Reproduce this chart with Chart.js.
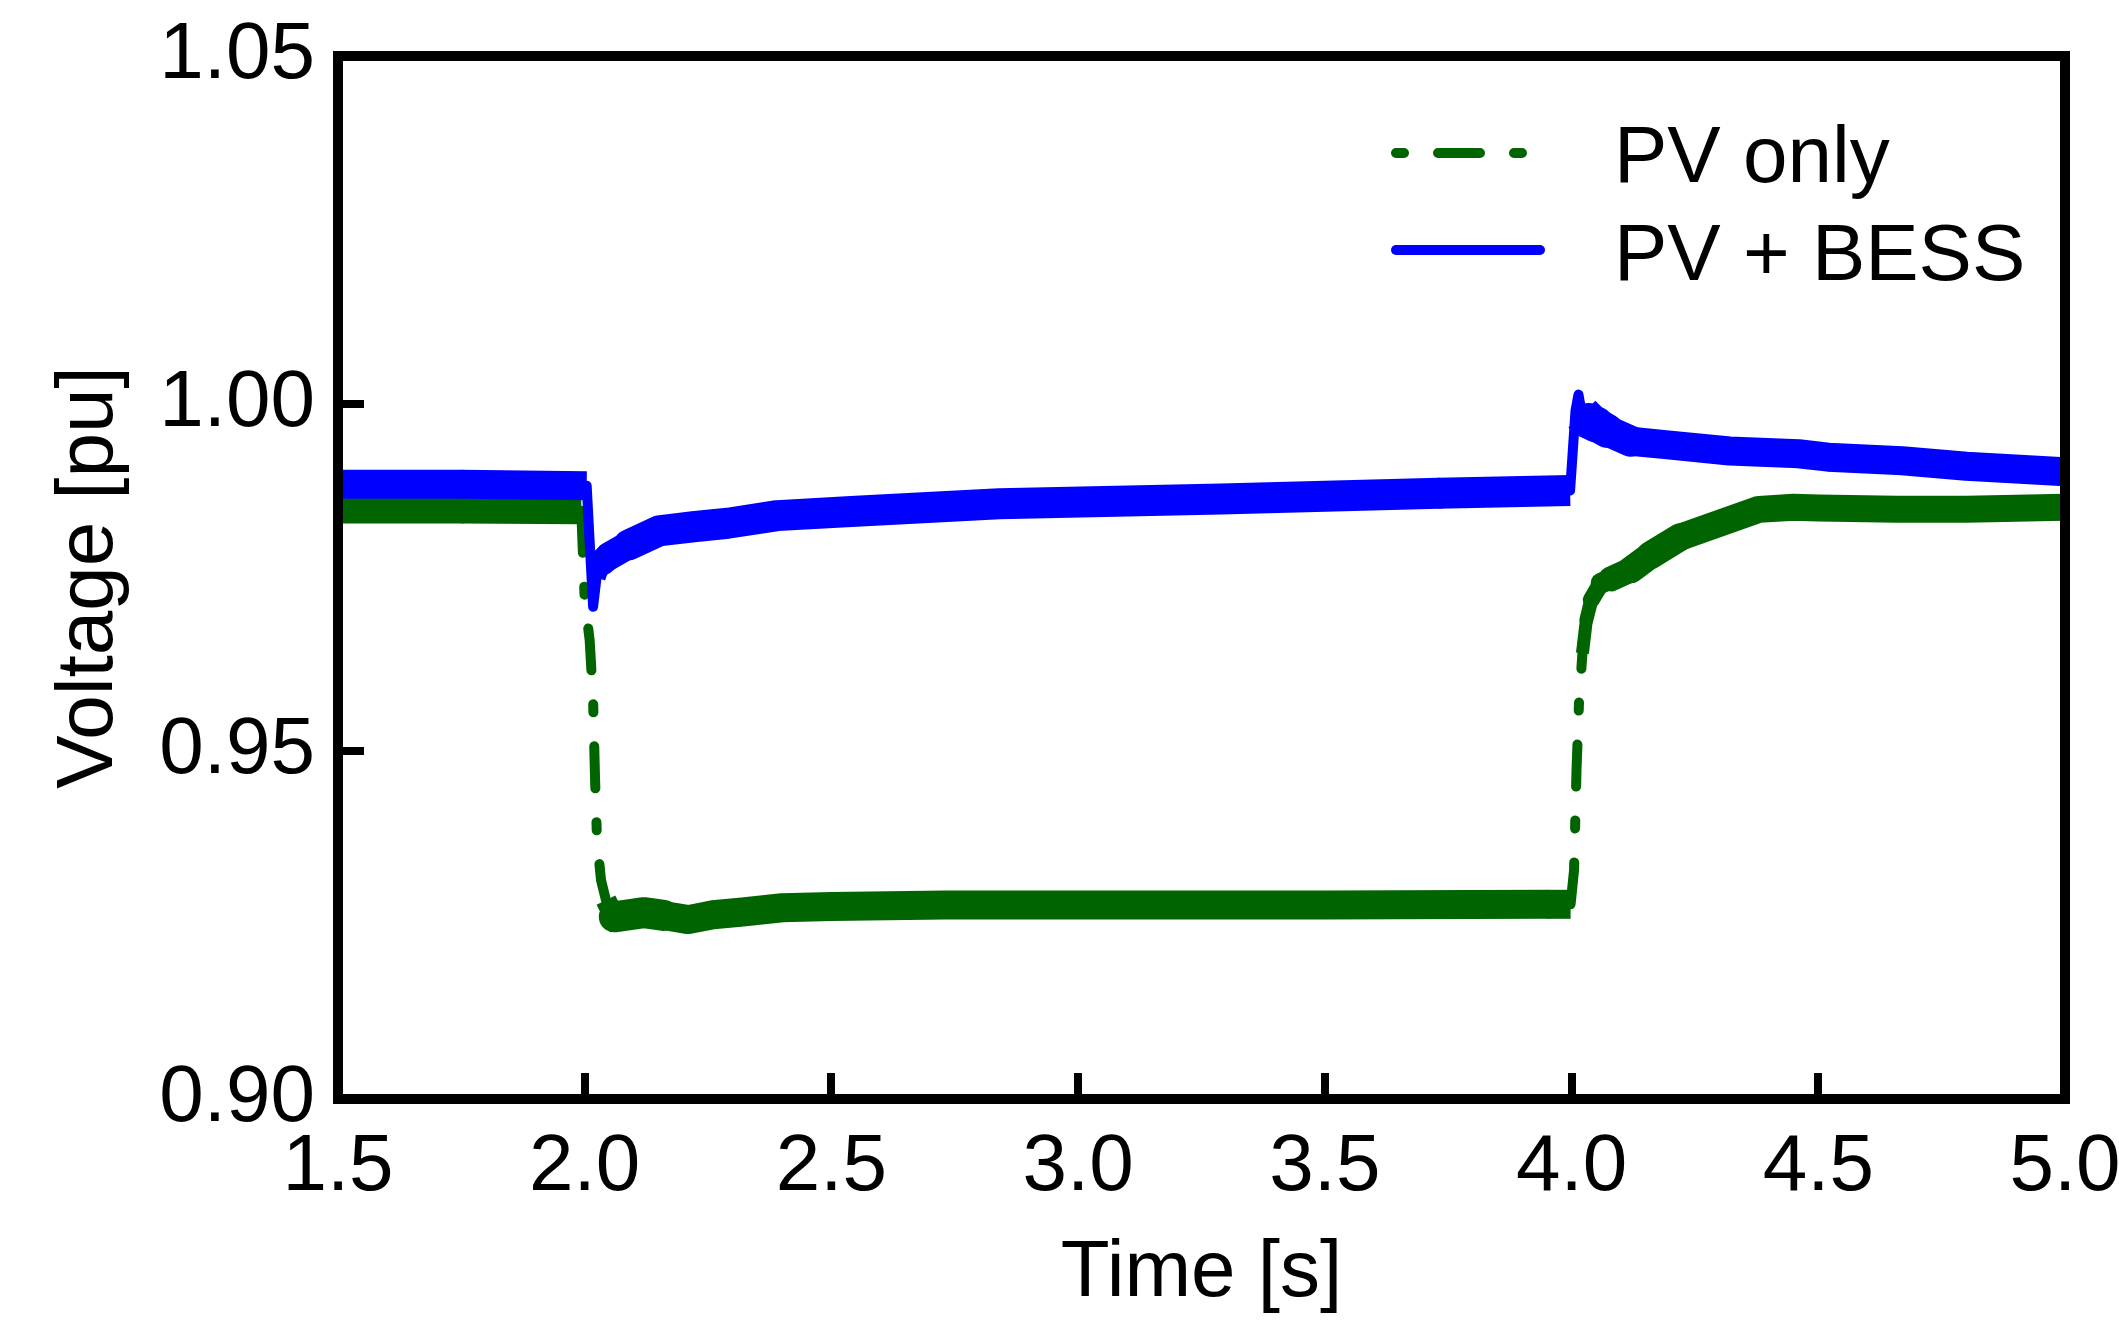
<!DOCTYPE html>
<html>
<head>
<meta charset="utf-8">
<title>Voltage [pu] vs Time [s]</title>
<script src="https://cdn.jsdelivr.net/npm/chart.js@4.4.1/dist/chart.umd.min.js"></script>
<style>
  html, body { margin: 0; padding: 0; background: #ffffff; }
  #wrap { width: 2119px; height: 1322px; }
</style>
</head>
<body>
<div id="wrap"><canvas id="voltage-chart" width="2119" height="1322"></canvas></div>
<script>
// Axis ticks
const timeTicks = [1.5, 2.0, 2.5, 3.0, 3.5, 4.0, 4.5, 5.0];
const voltageTicks = [0.90, 0.95, 1.00, 1.05];

// PV only: time [s], voltage [pu], ripple half-amplitude [pu]
const pvOnlyTime = [1.50, 1.75, 1.993, 2.000, 2.010, 2.017, 2.021, 2.025, 2.033, 2.043,
  2.06, 2.12, 2.16, 2.21, 2.26, 2.32, 2.40, 2.50, 2.73, 3.06,
  3.50, 3.95, 3.998, 4.005, 4.010, 4.015, 4.022, 4.030, 4.040, 4.06,
  4.08, 4.12, 4.16, 4.22, 4.30, 4.38, 4.45, 4.50, 4.66, 4.80, 5.00];
const pvOnlyVolt = [0.9847, 0.9847, 0.9846, 0.9718, 0.9660, 0.9574, 0.9459, 0.9372, 0.9315, 0.9286,
  0.9262, 0.9268, 0.9264, 0.9258, 0.9265, 0.9269, 0.9275, 0.9277, 0.9279, 0.9279,
  0.9279, 0.9280, 0.9280, 0.9329, 0.9473, 0.9569, 0.9641, 0.9689, 0.9718, 0.9742,
  0.9748, 0.9761, 0.9782, 0.9808, 0.9828, 0.9848, 0.9851, 0.9850, 0.9848, 0.9848, 0.9851];
const pvOnlyRipple = [0.0012, 0.0012, 0, 0, 0, 0, 0, 0, 0, 0.0008,
  0.0015, 0.0015, 0.0014, 0.0014, 0.0014, 0.0014, 0.0014, 0.0014, 0.0014, 0.0014,
  0.0014, 0.0014, 0, 0, 0, 0, 0.0002, 0.0003, 0.0005, 0.0008,
  0.0011, 0.0012, 0.0013, 0.0012, 0.0012, 0.0012, 0.0012, 0.0012, 0.0012, 0.0012, 0.0012];

// PV + BESS
const pvBessTime = [1.50, 1.75, 2.004, 2.017, 2.024, 2.035, 2.05, 2.09, 2.15, 2.22,
  2.29, 2.39, 2.54, 2.84, 3.29, 3.73, 3.997, 4.008, 4.014,
  4.021, 4.035, 4.05, 4.072, 4.12, 4.19, 4.32, 4.46, 4.52, 4.67,
  4.80, 5.00];
const pvBessVolt = [0.9884, 0.9884, 0.9882, 0.9708, 0.9750, 0.9772, 0.9781, 0.9797, 0.9817, 0.9823,
  0.9828, 0.9839, 0.9845, 0.9856, 0.9863, 0.9871, 0.9875, 0.9990, 1.0013,
  0.9985, 0.9975, 0.9970, 0.9961, 0.9946, 0.9941, 0.9932, 0.9928, 0.9923, 0.9918,
  0.9910, 0.9902];
const pvBessRipple = [0.0014, 0.0014, 0, 0, 0.0006, 0.0012, 0.0013, 0.0015, 0.0015, 0.0015,
  0.0015, 0.0015, 0.0015, 0.0015, 0.0015, 0.0015, 0, 0, 0,
  0.0020, 0.0019, 0.0017, 0.0015, 0.0014, 0.0014, 0.0014, 0.0014, 0.0014, 0.0014,
  0.0014, 0.0014];

const colors = {
  pvOnly: "#006400",
  pvBess: "#0000ff",
  axis: "#000000",
};

const FONT = "'Liberation Sans', Arial, sans-serif";
const LINE_WIDTH = 10;
const DASH = [42, 34, 8, 34];

function toPoints(times, volts) {
  return times.map((t, i) => ({ x: t, y: volts[i] }));
}

// The simulated traces carry a fast ripple; draw it as a band whose width
// follows the ripple amplitude.
function bandWidth(ripple) {
  return (ctx) => {
    const y = ctx.chart.scales.y;
    const pxPerPu = y.height / (y.max - y.min);
    return Math.round(LINE_WIDTH + 2 * ripple[ctx.p0DataIndex] * pxPerPu);
  };
}

// Square ends where a band meets a thin stretch, round everywhere else.
function bandCap(ripple) {
  return (ctx) => {
    const i = ctx.p0DataIndex;
    if (ripple[i] === 0) {
      return "round";
    }
    const bandEdge = ripple[i - 1] === 0 || ripple[i + 1] === 0;
    return bandEdge ? "butt" : "round";
  };
}

/** Black box round the plot area */
const framePlugin = {
  id: "frame",
  afterDatasetsDraw(chart) {
    const { ctx, chartArea: a } = chart;
    ctx.save();
    ctx.lineWidth = 10;
    ctx.strokeStyle = colors.axis;
    ctx.strokeRect(a.left, a.top, a.right - a.left, a.bottom - a.top);
    ctx.restore();
  },
};

/** Legend in the upper right, with the dash-dot sample */
const legendPlugin = {
  id: "sampleLegend",
  afterDraw(chart) {
    const ctx = chart.ctx;
    ctx.save();
    ctx.lineWidth = LINE_WIDTH;
    ctx.lineCap = "round";

    ctx.strokeStyle = colors.pvOnly;
    ctx.setLineDash([8, 34, 42, 34]);
    ctx.beginPath();
    ctx.moveTo(1396, 153);
    ctx.lineTo(1522, 153);
    ctx.stroke();

    ctx.strokeStyle = colors.pvBess;
    ctx.setLineDash([]);
    ctx.beginPath();
    ctx.moveTo(1396, 250);
    ctx.lineTo(1540, 250);
    ctx.stroke();

    ctx.fillStyle = colors.axis;
    ctx.font = `80px ${FONT}`;
    ctx.textAlign = "left";
    ctx.textBaseline = "alphabetic";
    ctx.fillText("PV only", 1614, 182);
    ctx.fillText("PV + BESS", 1614, 280);
    ctx.restore();
  },
};

Chart.defaults.font.family = FONT;
Chart.defaults.color = colors.axis;

new Chart(document.getElementById("voltage-chart"), {
  type: "line",
  data: {
    datasets: [
      {
        label: "PV + BESS",
        data: toPoints(pvBessTime, pvBessVolt),
        borderColor: colors.pvBess,
        borderWidth: LINE_WIDTH,
        borderDash: [],
        borderCapStyle: "round",
        borderJoinStyle: "round",
        pointRadius: 0,
        tension: 0,
        fill: false,
        clip: 0,
        order: 0,
        segment: {
          borderWidth: bandWidth(pvBessRipple),
          borderCapStyle: bandCap(pvBessRipple),
        },
      },
      {
        label: "PV only",
        data: toPoints(pvOnlyTime, pvOnlyVolt),
        borderColor: colors.pvOnly,
        borderWidth: LINE_WIDTH,
        borderDash: [],
        borderCapStyle: "round",
        borderJoinStyle: "round",
        pointRadius: 0,
        tension: 0,
        fill: false,
        clip: 0,
        order: 1,
        segment: {
          borderWidth: bandWidth(pvOnlyRipple),
          borderCapStyle: bandCap(pvOnlyRipple),
          borderDash: (ctx) => (pvOnlyRipple[ctx.p0DataIndex] === 0 ? DASH : undefined),
        },
      },
    ],
  },
  options: {
    responsive: false,
    devicePixelRatio: 1,
    animation: false,
    events: [],
    layout: { padding: { top: 56, right: 54, left: 0, bottom: 0 } },
    plugins: {
      legend: { display: false },
      tooltip: { enabled: false },
    },
    scales: {
      x: {
        type: "linear",
        min: 1.5,
        max: 5.0,
        afterBuildTicks: (scale) => {
          scale.ticks = timeTicks.map((v) => ({ value: v }));
        },
        afterFit: (scale) => {
          scale.height = 223;
          scale.paddingLeft = 0;
          scale.paddingRight = 0;
        },
        border: { display: false },
        grid: {
          drawOnChartArea: false,
          drawTicks: true,
          tickLength: -26,
          lineWidth: 8,
          color: colors.axis,
        },
        ticks: {
          autoSkip: false,
          maxRotation: 0,
          padding: 47,
          font: { size: 80 },
          color: colors.axis,
          callback: (v) => Number(v).toFixed(1),
        },
        title: {
          display: true,
          text: "Time [s]",
          font: { size: 80 },
          color: colors.axis,
          padding: { top: 0, bottom: 0 },
        },
      },
      y: {
        type: "linear",
        min: 0.9,
        max: 1.05,
        afterBuildTicks: (scale) => {
          scale.ticks = voltageTicks.map((v) => ({ value: v }));
        },
        afterFit: (scale) => {
          scale.width = 338;
          scale.paddingTop = 0;
          scale.paddingBottom = 0;
        },
        border: { display: false },
        grid: {
          drawOnChartArea: false,
          drawTicks: true,
          tickLength: -26,
          lineWidth: 8,
          color: colors.axis,
        },
        ticks: {
          autoSkip: false,
          padding: 49,
          font: { size: 80 },
          color: colors.axis,
          callback: (v) => Number(v).toFixed(2),
        },
        title: {
          display: true,
          text: "Voltage [pu]",
          font: { size: 80 },
          color: colors.axis,
          padding: { top: 42, bottom: 0 },
        },
      },
    },
  },
  plugins: [framePlugin, legendPlugin],
});
</script>
</body>
</html>
